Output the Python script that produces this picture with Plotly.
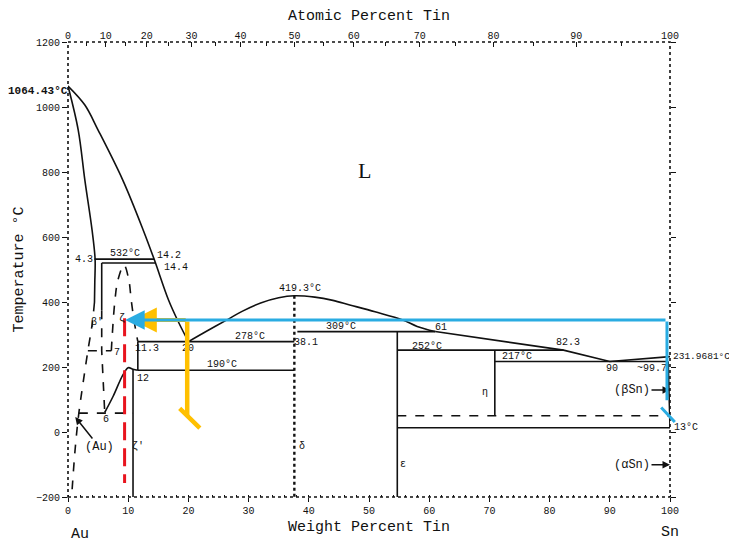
import plotly.graph_objects as go

# ---------------- data (weight % Sn, temperature °C) ----------------
liq_au_w = [0, 2.8, 5.0, 9.1, 12.5, 14.3, 16.7, 18.3, 20]
liq_au_T = [1064.43, 1006, 929, 775, 621, 532, 406, 340, 278]

sol_au_w = [0, 1.7, 2.8, 4.0, 4.5, 4.45, 4.4]
sol_au_T = [1064.43, 929, 775, 621, 532, 460, 400]

solv_au_w = [4.4, 4.0, 3.3, 2.5, 1.8, 1.2, 0.6]
solv_au_T = [400, 330, 250, 150, 58, -50, -200]

beta_w_solid = [5.6, 5.6]
beta_T_solid = [520, 375]
beta_w_dash = [5.6, 5.6, 6.1]
beta_T_dash = [375, 250, 60]

dome_w = [7.2, 7.3, 7.8, 8.3, 9.3, 10.1, 10.5, 11.0, 11.6]
dome_T = [250, 283, 406, 468, 514, 468, 406, 340, 278]

zeta1_w = [6.1, 7.5, 9.1, 10.0, 10.8, 11.6]
zeta1_T = [60, 110, 175, 198, 193, 190]

dome_mid_w = [20, 23, 26.4, 29, 32, 35, 37.6, 41, 44, 46.8, 51, 55.6, 58, 61]
dome_mid_T = [278, 310, 345, 372, 397, 413, 419.3, 415, 405, 391, 370, 345, 325, 309]

liq_sn_w = [61, 71.5, 82.3, 90, 95, 100]
liq_sn_T = [309, 281, 252, 217, 224, 231.9681]

# solid horizontal / vertical segments: (w0, T0, w1, T1)
solid_segments = [
    (4.4, 532, 14.3, 532),
    (5.6, 520, 14.6, 520),
    (11.6, 278, 37.6, 278),
    (11.6, 278, 11.6, 190),
    (11.6, 190, 37.6, 190),
    (10.8, 193, 10.8, -200),
    (38.1, 309, 61, 309),
    (54.7, 309, 54.7, -200),
    (54.7, 252, 82.3, 252),
    (70.9, 252, 70.9, 50),
    (70.9, 217, 99.7, 217),
    (99.7, 217, 100, 13),
    (54.7, 13, 100, 13),
]
dashed_segments = [
    (3.3, 250, 7.2, 250),
    (1.8, 58, 10.8, 58),
    (54.7, 50, 100, 50),
]
delta_w = [37.6, 37.6]
delta_T = [419.3, -200]

# phase / point labels: (text, w, T)
labels = [
    ("532°C", 9.5, 550), ("4.3", 2.6, 530), ("14.2", 16.8, 543), ("14.4", 18.0, 506),
    ("β'", 4.8, 338), ("ζ", 9.0, 350), ("7", 8.1, 246), ("11.3", 13.1, 258), ("20", 19.9, 258),
    ("278°C", 30.2, 295), ("190°C", 25.6, 209), ("12", 12.4, 166), ("6", 6.3, 37),
    ("ζ'", 11.6, -46), ("δ", 38.9, -46), ("ε", 55.6, -101), ("η", 69.3, 123),
    ("419.3°C", 38.5, 442), ("38.1", 39.5, 274), ("309°C", 45.3, 324), ("61", 62.0, 322),
    ("252°C", 59.6, 263), ("217°C", 74.6, 231), ("82.3", 83.0, 274), ("90", 90.4, 196),
    ("~99.7", 97.0, 196),
]

wt_ticks = list(range(0, 101, 10))
temp_ticks = list(range(-200, 1201, 200))
at_ticks = list(range(0, 101, 10))
at_minor = list(range(5, 100, 10))

# overlay annotation paths (w, T)
yellow_arrow = [(19.8, 345), (10.6, 345)]
yellow_vert = [(19.8, 345), (19.8, 49)]
yellow_diag = [(18.3, 77), (21.9, 12)]
red_dash_w = [9.4, 9.4]
red_dash_T = [350, -157]
blue_arrow = [(99.5, 345), (9.5, 345)]
blue_vert = [(99.5, 345), (99.5, 98)]
blue_diag = [(98.3, 80), (100.8, 31)]

M_AU, M_SN = 196.97, 118.71


def at_to_wt(a):
    return 100 * a * M_SN / (a * M_SN + (100 - a) * M_AU)


MONO = "Liberation Mono"
BLACK = "#111111"

fig = go.Figure()


def add_line(w, T, dash="solid", width=1.6, color=BLACK, shape="linear"):
    fig.add_trace(go.Scatter(x=w, y=T, mode="lines",
                             line=dict(color=color, width=width, dash=dash, shape=shape),
                             showlegend=False, hoverinfo="skip"))


add_line(liq_au_w, liq_au_T, shape="spline")
add_line(sol_au_w, sol_au_T, shape="spline")
add_line(solv_au_w, solv_au_T, dash="dash", shape="spline")
add_line(beta_w_solid, beta_T_solid)
add_line(beta_w_dash, beta_T_dash, dash="dash")
add_line(dome_w, dome_T, dash="dash", shape="spline")
add_line(zeta1_w, zeta1_T, shape="spline")
add_line(dome_mid_w, dome_mid_T, shape="spline")
add_line(liq_sn_w, liq_sn_T)
for (w0, T0, w1, T1) in solid_segments:
    add_line([w0, w1], [T0, T1])
for (w0, T0, w1, T1) in dashed_segments:
    add_line([w0, w1], [T0, T1], dash="dash")
add_line(delta_w, delta_T, dash="dot", width=2.4)

# red dashed marker line
add_line(red_dash_w, red_dash_T, dash="18px,8px", width=3, color="#E8141E")

# invisible trace to activate top axis
fig.add_trace(go.Scatter(x=[0], y=[0], xaxis="x2", mode="markers",
                         marker=dict(opacity=0), showlegend=False, hoverinfo="skip"))

ann = []
for (t, w, T) in labels:
    ann.append(dict(x=w, y=T, text=t, showarrow=False, xref="x", yref="y",
                    font=dict(family=MONO, size=10, color=BLACK)))

ann.append(dict(x=49.3, y=806, text="L", showarrow=False,
                font=dict(family="Liberation Serif", size=22, color=BLACK)))
ann.append(dict(x=0, y=1050, text="<b>1064.43°C</b>", showarrow=False, xanchor="right",
                xshift=2, font=dict(family=MONO, size=11, color=BLACK)))
ann.append(dict(x=100, y=231.9681, text="231.9681°C", showarrow=False, xanchor="left",
                xshift=1, font=dict(family=MONO, size=9.5, color=BLACK)))
ann.append(dict(x=100, y=15, text="13°C", showarrow=False, xanchor="left",
                xshift=2, font=dict(family=MONO, size=10, color=BLACK)))
ann.append(dict(x=100, y=129, text="(βSn)", showarrow=True, ax=-38, ay=0,
                arrowhead=2, arrowsize=1, arrowwidth=1.5, arrowcolor=BLACK,
                font=dict(family=MONO, size=12, color=BLACK)))
ann.append(dict(x=100, y=-101, text="(αSn)", showarrow=True, ax=-38, ay=0,
                arrowhead=2, arrowsize=1, arrowwidth=1.5, arrowcolor=BLACK,
                font=dict(family=MONO, size=12, color=BLACK)))
ann.append(dict(x=1.2, y=46, text="(Au)", showarrow=True, ax=24, ay=30,
                arrowhead=2, arrowsize=1, arrowwidth=1.5, arrowcolor=BLACK,
                font=dict(family=MONO, size=12, color=BLACK)))
ann.append(dict(x=2, y=-0.083, yref="paper", yanchor="middle", text="Au", showarrow=False,
                font=dict(family=MONO, size=15, color=BLACK)))
ann.append(dict(x=100, y=-0.079, yref="paper", yanchor="middle", text="Sn", showarrow=False,
                font=dict(family=MONO, size=15, color=BLACK)))


def seg_ann(p0, p1, color, width, head=0, size=1):
    return dict(x=p1[0], y=p1[1], ax=p0[0], ay=p0[1], xref="x", yref="y",
                axref="x", ayref="y", text="", showarrow=True,
                arrowhead=head, arrowsize=size, arrowwidth=width, arrowcolor=color)


YEL = "#FFC000"
BLU = "#2AACE2"
ann.append(seg_ann(yellow_arrow[0], yellow_arrow[1], YEL, 4, head=2, size=1.25))
ann.append(seg_ann(yellow_vert[0], yellow_vert[1], YEL, 4.5))
ann.append(seg_ann(yellow_diag[0], yellow_diag[1], YEL, 4.5))
ann.append(seg_ann(blue_arrow[0], blue_arrow[1], BLU, 3, head=2, size=1.3))
ann.append(seg_ann(blue_vert[0], blue_vert[1], BLU, 3))
ann.append(seg_ann(blue_diag[0], blue_diag[1], BLU, 3))

fig.update_layout(
    width=737, height=545,
    margin=dict(l=60, r=75, t=34, b=56),
    paper_bgcolor="white", plot_bgcolor="white",
    annotations=ann,
    xaxis=dict(range=[0, 100], tickvals=wt_ticks, ticks="outside", ticklen=4,
               tickcolor=BLACK, showgrid=False, zeroline=False, showline=False,
               automargin=False,
               tickfont=dict(family=MONO, size=10, color=BLACK),
               title=dict(text="Weight Percent Tin", standoff=4,
                          font=dict(family=MONO, size=15, color=BLACK)),
               minor=dict(dtick=2, ticklen=2, ticks="inside", tickcolor=BLACK)),
    xaxis2=dict(range=[0, 100], overlaying="x", side="top",
                tickvals=[at_to_wt(a) for a in at_ticks],
                ticktext=[str(a) for a in at_ticks],
                ticks="inside", ticklen=5, tickcolor=BLACK, showgrid=False,
                zeroline=False, showline=False, automargin=False,
                tickfont=dict(family=MONO, size=10, color=BLACK),
                title=dict(text="Atomic Percent Tin", standoff=8,
                           font=dict(family=MONO, size=15, color=BLACK)),
                minor=dict(tickvals=[at_to_wt(a) for a in at_minor], ticklen=4,
                           ticks="inside", tickcolor=BLACK)),
    yaxis=dict(range=[-200, 1200], tickvals=temp_ticks, ticks="outside", ticklen=5,
               tickcolor=BLACK, showgrid=False, zeroline=False, showline=False,
               mirror="ticks", automargin=False,
               tickfont=dict(family=MONO, size=10, color=BLACK),
               title=dict(text="Temperature °C", standoff=8,
                          font=dict(family=MONO, size=15, color=BLACK))),
    shapes=[dict(type="rect", xref="paper", yref="paper", x0=0, y0=0, x1=1, y1=1,
                 line=dict(color=BLACK, width=1.6, dash="dot"), layer="above")],
)

fig.write_html("out.html")
